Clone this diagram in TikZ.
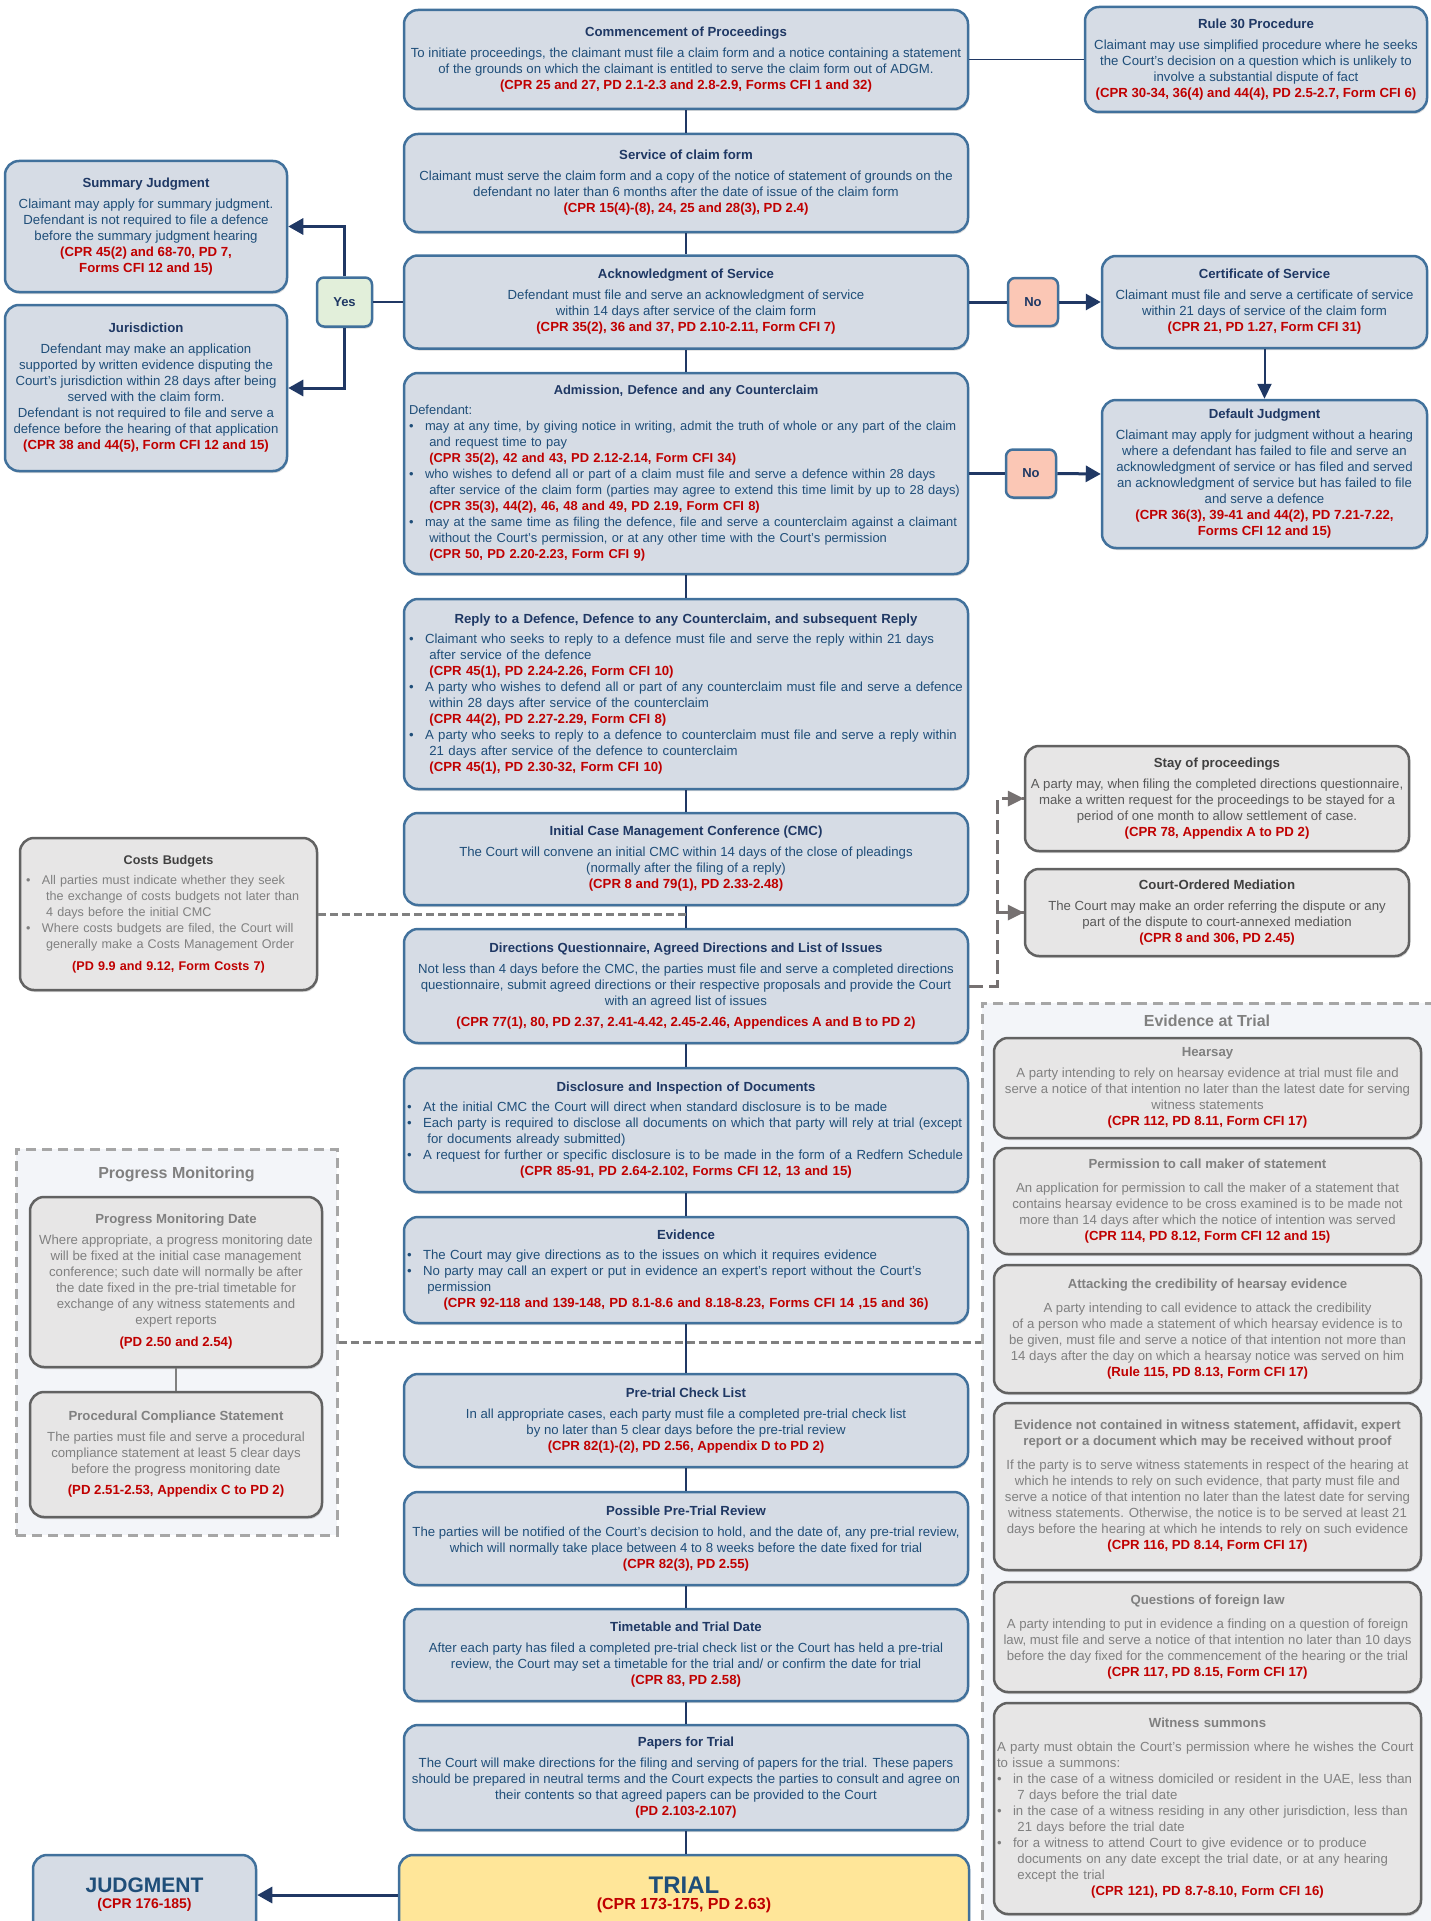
\documentclass[tikz,border=0pt]{standalone}
\usepackage{fontspec}
\setmainfont{Liberation Sans}
\usetikzlibrary{positioning,arrows.meta,shadows}

\definecolor{stagefill}{HTML}{D6DCE5}
\definecolor{stageline}{HTML}{41719C}
\definecolor{headblue}{HTML}{1F3864}
\definecolor{textblue}{HTML}{1F4E79}
\definecolor{refred}{HTML}{C00000}
\definecolor{flowblue}{HTML}{203864}
\definecolor{sidefill}{HTML}{E7E6E6}
\definecolor{sideline}{HTML}{626262}
\definecolor{headgrey}{HTML}{404040}
\definecolor{textgrey}{HTML}{595959}
\definecolor{palegrey}{HTML}{808080}
\definecolor{zonefill}{HTML}{F3F5F9}
\definecolor{zoneline}{HTML}{A6A6A6}
\definecolor{yesfill}{HTML}{E2EFDA}
\definecolor{nofill}{HTML}{FBC7B5}
\definecolor{trialfill}{HTML}{FFE699}
\definecolor{hintgrey}{HTML}{767171}

\newcommand\headcol{headblue}
\newcommand\ttl[1]{{\bfseries\color{\headcol}#1}}
\newcommand\cpr[1]{{\bfseries\color{refred}#1}}
% bullet paragraph, one unbreakable box per line
\newcommand\bitem[1]{\par{\def\\{\egroup\newline\hbox\bgroup}\hangindent=16pt\hangafter=1\noindent
    \makebox[16pt][l]{\textbullet}\hbox\bgroup#1\egroup\par}}
\newcommand\plainline[1]{\par\noindent\hbox{#1}\par}

\tikzset{
    stage/.style={rectangle, rounded corners=14pt, draw=stageline, line width=2.5pt,
        fill=stagefill, text=textblue, align=center, inner sep=2pt,
        font=\fontsize{13.2}{16}\selectfont,
        drop shadow={shadow xshift=1pt, shadow yshift=-2pt, opacity=0.3}},
    side/.style={stage, fill=sidefill, draw=sideline, text=textgrey,
        font={\def\headcol{headgrey}\fontsize{13.2}{16}\selectfont}},
    faint/.style={side, text=palegrey,
        font={\def\headcol{palegrey}\fontsize{13.2}{16}\selectfont}},
    box/.style 2 args={minimum width=#1pt, minimum height=#2pt},
    listed/.style={text width=#1, align=left},
    tag/.style={rectangle, rounded corners=7pt, draw=stageline, line width=2.5pt,
        text=headblue, font=\fontsize{13}{14}\selectfont\bfseries,
        minimum width=50pt, minimum height=48pt,
        drop shadow={shadow xshift=1pt, shadow yshift=-2pt, opacity=0.3}},
    zone/.style={draw=zoneline, fill=zonefill, line width=3pt, dash pattern=on 10pt off 6pt},
    zonetitle/.style={text=palegrey, font=\fontsize{16}{19}\selectfont\bfseries},
    flow/.style={draw=flowblue, line width=1.3pt},
    branch/.style={draw=flowblue, line width=3pt, -{Triangle[length=15pt,width=16pt]}},
    hint/.style={draw=hintgrey, line width=3pt, dash pattern=on 14pt off 6pt},
    loose/.style={draw=palegrey, line width=3pt, dash pattern=on 8pt off 4pt},
}

\begin{document}
\begin{tikzpicture}[x=1pt, y=-1pt]
    \useasboundingbox (0,0) rectangle (1430,1921);

    % grouped areas
    \node[zone, minimum width=321pt, minimum height=386pt] (pm) at (176.5,1342) {};
    \node[zonetitle, below=16pt of pm.north] (pmt) {Progress Monitoring};
    \node[zone, minimum width=468pt, minimum height=957pt] (eat) at (1216,1481.5) {};
    \node[zonetitle] (eatt) at (1207,1021) {Evidence at Trial};

    % main column
    \node[stage, box={564}{99}] (comm) at (686,59.5) {\ttl{Commencement of Proceedings}\\[5pt]
        To initiate proceedings, the claimant must file a claim form and a notice containing a statement\\
        of the grounds on which the claimant is entitled to serve the claim form out of ADGM.\\
        \cpr{(CPR 25 and 27, PD 2.1-2.3 and 2.8-2.9, Forms CFI 1 and 32)}};
    \node[stage, box={564}{98}] (serv) at (686,183) {\ttl{Service of claim form}\\[5pt]
        Claimant must serve the claim form and a copy of the notice of statement of grounds on the\\
        defendant no later than 6 months after the date of issue of the claim form\\
        \cpr{(CPR 15(4)-(8), 24, 25 and 28(3), PD 2.4)}};
    \node[stage, box={564}{93}] (ack) at (686,302) {\ttl{Acknowledgment of Service}\\[5pt]
        Defendant must file and serve an acknowledgment of service\\
        within 14 days after service of the claim form\\
        \cpr{(CPR 35(2), 36 and 37, PD 2.10-2.11, Form CFI 7)}};
    \node[stage, box={564}{201}, listed=554pt, inner sep=4pt, font=\fontsize{12.9}{16}\selectfont] (adm) at (686,473.5) {\centerline{\ttl{Admission, Defence and any Counterclaim}}\par\vspace{4pt}
        \plainline{Defendant:}
        \bitem{may at any time, by giving notice in writing, admit the truth of whole or any part of the claim\\
        and request time to pay\\
        \cpr{(CPR 35(2), 42 and 43, PD 2.12-2.14, Form CFI 34)}}
        \bitem{who wishes to defend all or part of a claim must file and serve a defence within 28 days\\
        after service of the claim form (parties may agree to extend this time limit by up to 28 days)\\
        \cpr{(CPR 35(3), 44(2), 46, 48 and 49, PD 2.19, Form CFI 8)}}
        \bitem{may at the same time as filing the defence, file and serve a counterclaim against a claimant\\
        without the Court’s permission, or at any other time with the Court’s permission\\
        \cpr{(CPR 50, PD 2.20-2.23, Form CFI 9)}}};
    \node[stage, box={564}{190}, listed=554pt, inner sep=4pt] (reply) at (686,694) {\centerline{\ttl{Reply to a Defence, Defence to any Counterclaim, and subsequent Reply}}\par\vspace{4pt}
        \bitem{Claimant who seeks to reply to a defence must file and serve the reply within 21 days\\
        after service of the defence\\
        \cpr{(CPR 45(1), PD 2.24-2.26, Form CFI 10)}}
        \bitem{A party who wishes to defend all or part of any counterclaim must file and serve a defence\\
        within 28 days after service of the counterclaim\\
        \cpr{(CPR 44(2), PD 2.27-2.29, Form CFI 8)}}
        \bitem{A party who seeks to reply to a defence to counterclaim must file and serve a reply within\\
        21 days after service of the defence to counterclaim\\
        \cpr{(CPR 45(1), PD 2.30-32, Form CFI 10)}}};
    \node[stage, box={564}{92}] (cmc) at (686,859) {\ttl{Initial Case Management Conference (CMC)}\\[5pt]
        The Court will convene an initial CMC within 14 days of the close of pleadings\\
        (normally after the filing of a reply)\\
        \cpr{(CPR 8 and 79(1), PD 2.33-2.48)}};
    \node[stage, box={564}{114}] (dir) at (686,986) {\ttl{Directions Questionnaire, Agreed Directions and List of Issues}\\[5pt]
        Not less than 4 days before the CMC, the parties must file and serve a completed directions\\
        questionnaire, submit agreed directions or their respective proposals and provide the Court\\
        with an agreed list of issues\\[5pt]
        \cpr{(CPR 77(1), 80, PD 2.37, 2.41-4.42, 2.45-2.46, Appendices A and B to PD 2)}};
    \node[stage, box={564}{124}, listed=558pt] (discl) at (686,1130) {\centerline{\ttl{Disclosure and Inspection of Documents}}\par\vspace{4pt}
        \bitem{At the initial CMC the Court will direct when standard disclosure is to be made}
        \bitem{Each party is required to disclose all documents on which that party will rely at trial (except\\
        for documents already submitted)}
        \bitem{A request for further or specific disclosure is to be made in the form of a Redfern Schedule}
        \centerline{\cpr{(CPR 85-91, PD 2.64-2.102, Forms CFI 12, 13 and 15)}}};
    \node[stage, box={564}{106}, listed=558pt] (evid) at (686,1270) {\centerline{\ttl{Evidence}}\par\vspace{4pt}
        \bitem{The Court may give directions as to the issues on which it requires evidence}
        \bitem{No party may call an expert or put in evidence an expert’s report without the Court’s\\
        permission}
        \centerline{\cpr{(CPR 92-118 and 139-148, PD 8.1-8.6 and 8.18-8.23, Forms CFI 14 ,15 and 36)}}};
    \node[stage, box={564}{93}] (check) at (686,1420.5) {\ttl{Pre-trial Check List}\\[5pt]
        In all appropriate cases, each party must file a completed pre-trial check list\\
        by no later than 5 clear days before the pre-trial review\\
        \cpr{(CPR 82(1)-(2), PD 2.56, Appendix D to PD 2)}};
    \node[stage, box={564}{93}] (review) at (686,1538.5) {\ttl{Possible Pre-Trial Review}\\[5pt]
        The parties will be notified of the Court’s decision to hold, and the date of, any pre-trial review,\\
        which will normally take place between 4 to 8 weeks before the date fixed for trial\\
        \cpr{(CPR 82(3), PD 2.55)}};
    \node[stage, box={564}{92}] (table) at (686,1655) {\ttl{Timetable and Trial Date}\\[5pt]
        After each party has filed a completed pre-trial check list or the Court has held a pre-trial\\
        review, the Court may set a timetable for the trial and/ or confirm the date for trial\\
        \cpr{(CPR 83, PD 2.58)}};
    \node[stage, box={564}{105}] (papers) at (686,1777.5) {\ttl{Papers for Trial}\\[5pt]
        The Court will make directions for the filing and serving of papers for the trial. These papers\\
        should be prepared in neutral terms and the Court expects the parties to consult and agree on\\
        their contents so that agreed papers can be provided to the Court\\
        \cpr{(PD 2.103-2.107)}};
    \node[stage, box={570}{80}, fill=trialfill] (trial) at (684,1895) {{\fontsize{24}{27}\selectfont\bfseries TRIAL}\\
        {\fontsize{16}{18}\selectfont\cpr{(CPR 173-175, PD 2.63)}}};

    % left side
    \node[stage, box={282}{131}] (summ) at (146,226.5) {\ttl{Summary Judgment}\\[5pt]
        Claimant may apply for summary judgment.\\
        Defendant is not required to file a defence\\
        before the summary judgment hearing\\
        \cpr{(CPR 45(2) and 68-70, PD 7,}\\
        \cpr{Forms CFI 12 and 15)}};
    \node[stage, box={282}{166}] (juris) at (146,388) {\ttl{Jurisdiction}\\[5pt]
        Defendant may make an application\\
        supported by written evidence disputing the\\
        Court’s jurisdiction within 28 days after being\\
        served with the claim form.\\
        Defendant is not required to file and serve a\\
        defence before the hearing of that application\\
        \cpr{(CPR 38 and 44(5), Form CFI 12 and 15)}};
    \node[tag, fill=yesfill, minimum width=55pt, minimum height=49pt] (yes) at (344.5,302) {Yes};
    \node[side, box={297}{152}, listed=285pt, inner sep=6pt, text=palegrey,
        font={\def\headcol{headgrey}\fontsize{12.6}{16}\selectfont}] (costs) at (168.5,914) {\centerline{\ttl{Costs Budgets}}\par\vspace{4pt}
        \bitem{All parties must indicate whether they seek\\
        the exchange of costs budgets not later than\\
        4 days before the initial CMC}
        \bitem{Where costs budgets are filed, the Court will\\
        generally make a Costs Management Order}
        \vspace{6pt}\centerline{\cpr{(PD 9.9 and 9.12, Form Costs 7)}}};
    \node[faint, box={292}{170}] (pmdate) at (176,1282) {\ttl{Progress Monitoring Date}\\[5pt]
        Where appropriate, a progress monitoring date\\
        will be fixed at the initial case management\\
        conference; such date will normally be after\\
        the date fixed in the pre-trial timetable for\\
        exchange of any witness statements and\\
        expert reports\\[6pt]
        \cpr{(PD 2.50 and 2.54)}};
    \node[faint, box={292}{125}] (pcs) at (176,1454.5) {\ttl{Procedural Compliance Statement}\\[5pt]
        The parties must file and serve a procedural\\
        compliance statement at least 5 clear days\\
        before the progress monitoring date\\[5pt]
        \cpr{(PD 2.51-2.53, Appendix C to PD 2)}};
    \node[stage, box={223}{80}] (judg) at (144.5,1895) {{\fontsize{21}{24}\selectfont\bfseries JUDGMENT}\\
        {\fontsize{14}{16}\selectfont\cpr{(CPR 176-185)}}};

    % right side
    \node[stage, box={342}{105}] (rule) at (1256,59.5) {\ttl{Rule 30 Procedure}\\[5pt]
        Claimant may use simplified procedure where he seeks\\
        the Court’s decision on a question which is unlikely to\\
        involve a substantial dispute of fact\\
        \cpr{(CPR 30-34, 36(4) and 44(4), PD 2.5-2.7, Form CFI 6)}};
    \node[tag, fill=nofill] (noa) at (1033,302) {No};
    \node[stage, box={325}{92}] (cert) at (1264.5,302) {\ttl{Certificate of Service}\\[5pt]
        Claimant must file and serve a certificate of service\\
        within 21 days of service of the claim form\\
        \cpr{(CPR 21, PD 1.27, Form CFI 31)}};
    \node[tag, fill=nofill] (nob) at (1031,473.5) {No};
    \node[stage, box={325}{148}] (dflt) at (1264.5,474) {\ttl{Default Judgment}\\[5pt]
        Claimant may apply for judgment without a hearing\\
        where a defendant has failed to file and serve an\\
        acknowledgment of service or has filed and served\\
        an acknowledgment of service but has failed to file\\
        and serve a defence\\
        \cpr{(CPR 36(3), 39-41 and 44(2), PD 7.21-7.22,}\\
        \cpr{Forms CFI 12 and 15)}};
    \node[side, box={384}{105}] (stay) at (1217,798.5) {\ttl{Stay of proceedings}\\[5pt]
        A party may, when filing the completed directions questionnaire,\\
        make a written request for the proceedings to be stayed for a\\
        period of one month to allow settlement of case.\\
        \cpr{(CPR 78, Appendix A to PD 2)}};
    \node[side, box={384}{87}] (med) at (1217,912.5) {\ttl{Court-Ordered Mediation}\\[5pt]
        The Court may make an order referring the dispute or any\\
        part of the dispute to court-annexed mediation\\
        \cpr{(CPR 8 and 306, PD 2.45)}};

    % evidence at trial
    \node[faint, box={427}{100}] (hear) at (1207.5,1088) {\ttl{Hearsay}\\[5pt]
        A party intending to rely on hearsay evidence at trial must file and\\
        serve a notice of that intention no later than the latest date for serving\\
        witness statements\\
        \cpr{(CPR 112, PD 8.11, Form CFI 17)}};
    \node[faint, box={427}{106}] (perm) at (1207.5,1201) {\ttl{Permission to call maker of statement}\\[8pt]
        An application for permission to call the maker of a statement that\\
        contains hearsay evidence to be cross examined is to be made not\\
        more than 14 days after which the notice of intention was served\\
        \cpr{(CPR 114, PD 8.12, Form CFI 12 and 15)}};
    \node[faint, box={427}{128}] (attack) at (1207.5,1329) {\ttl{Attacking the credibility of hearsay evidence}\\[8pt]
        A party intending to call evidence to attack the credibility\\
        of a person who made a statement of which hearsay evidence is to\\
        be given, must file and serve a notice of that intention not more than\\
        14 days after the day on which a hearsay notice was served on him\\
        \cpr{(Rule 115, PD 8.13, Form CFI 17)}};
    \node[faint, box={427}{167}] (nocont) at (1207.5,1486.5) {\ttl{Evidence not contained in witness statement, affidavit, expert}\\
        \ttl{report or a document which may be received without proof}\\[8pt]
        If the party is to serve witness statements in respect of the hearing at\\
        which he intends to rely on such evidence, that party must file and\\
        serve a notice of that intention no later than the latest date for serving\\
        witness statements. Otherwise, the notice is to be served at least 21\\
        days before the hearing at which he intends to rely on such evidence\\
        \cpr{(CPR 116, PD 8.14, Form CFI 17)}};
    \node[faint, box={427}{110}] (foreign) at (1207.5,1637) {\ttl{Questions of foreign law}\\[8pt]
        A party intending to put in evidence a finding on a question of foreign\\
        law, must file and serve a notice of that intention no later than 10 days\\
        before the day fixed for the commencement of the hearing or the trial\\
        \cpr{(CPR 117, PD 8.15, Form CFI 17)}};
    \node[faint, box={427}{211}, listed=421pt, inner sep=3pt] (summons) at (1207.5,1808.5) {\centerline{\ttl{Witness summons}}\par\vspace{8pt}
        \plainline{A party must obtain the Court’s permission where he wishes the Court}
        \plainline{to issue a summons:}
        \bitem{in the case of a witness domiciled or resident in the UAE, less than\\
        7 days before the trial date}
        \bitem{in the case of a witness residing in any other jurisdiction, less than\\
        21 days before the trial date}
        \bitem{for a witness to attend Court to give evidence or to produce\\
        documents on any date except the trial date, or at any hearing\\
        except the trial}
        \centerline{\cpr{(CPR 121), PD 8.7-8.10, Form CFI 16)}}};

    % main line
    \foreach \a/\b in {comm/serv, serv/ack, ack/adm, adm/reply, reply/cmc, cmc/dir, dir/discl,
        discl/evid, evid/check, check/review, review/table, table/papers}
        \draw[flow] (\a.south) -- (\b.north);
    \draw[flow] (papers.south) -- (papers.south |- trial.north);
    \draw[flow] (comm.east) -- (rule.west);

    % yes / no branches
    \draw[flow, line width=2pt] (ack.west) -- (yes.east);
    \draw[branch] (yes.north) |- (summ.east);
    \draw[branch] (yes.south) |- (juris.east);
    \draw[flowblue, line width=3pt] (ack.east) -- (noa.west);
    \draw[branch] (noa.east) -- (cert.west);
    \draw[flowblue, line width=3pt] (adm.east) -- (nob.west);
    \draw[branch] (nob.east) -- (dflt.west);
    \draw[flow, line width=2pt, -{Triangle[length=15pt,width=14pt]}] (cert.south) -- (dflt.north);
    \draw[branch] (trial.west) -- (judg.east);

    % side links
    \draw[loose] (costs.east) -- (costs.east -| cmc.south);
    \draw[hint] (dir.east) -- ++(28,0) coordinate (fork) |- (stay.west);
    \draw[hint] (fork |- med.west) -- (med.west);
    \fill[hintgrey] (stay.west) -- ++(-16,-8) -- ++(0,16) -- cycle;
    \fill[hintgrey] (med.west) -- ++(-16,-8) -- ++(0,16) -- cycle;
    \draw[flow, draw=palegrey, line width=1.3pt] (pmdate.south) -- (pcs.north);
    \draw[loose] (pm.east) -- (pm.east -| eat.west);
\end{tikzpicture}
\end{document}
